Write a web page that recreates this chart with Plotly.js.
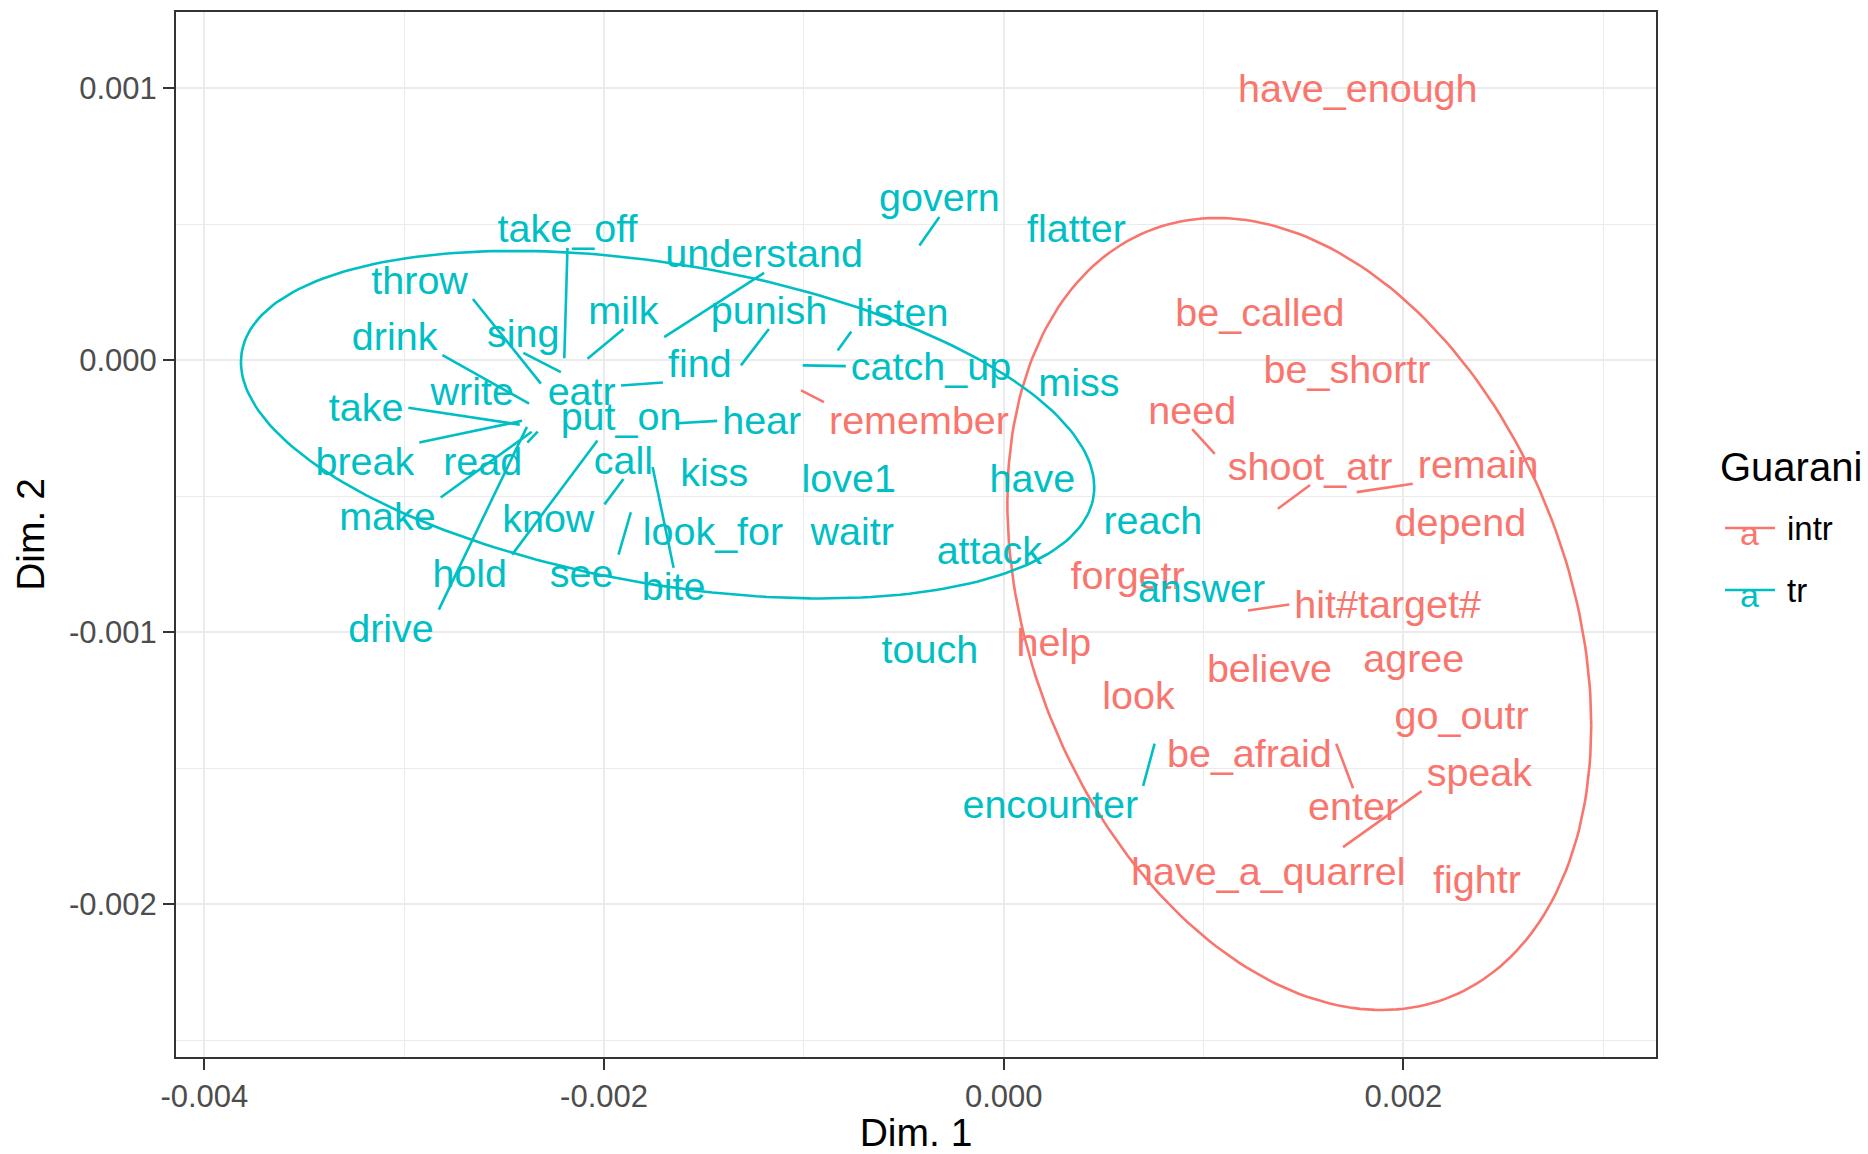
<!DOCTYPE html>
<html>
<head>
<meta charset="utf-8">
<script src="https://cdn.plot.ly/plotly-3.0.1.min.js"></script>
<style>
  html, body { margin: 0; padding: 0; background: #ffffff; }
  #chart { width: 1868px; height: 1154px; }
</style>
</head>
<body>
<div id="chart"></div>
<script>
// ---- Guarani verbs: transitive (tr) ----
// x / y: position of each verb on Dim. 1 / Dim. 2
// labelX / labelY: where the repelled text label sits
const trWords  = ['govern','take_off','flatter','understand','throw','milk','punish','listen','sing','drink',
                  'find','catch_up','miss','write','eatr','take','put_on','hear','break','read',
                  'call','kiss','love1','have','make','know','look_for','waitr','reach','attack',
                  'hold','see','bite','answer','drive','touch','encounter'];
const trX      = [-0.000422,-0.002199, 0.000364,-0.001699,-0.002316,-0.002083,-0.001315,-0.000831,-0.002216,-0.002375,
                  -0.001915,-0.001006, 0.000376,-0.002660,-0.002112,-0.002422,-0.001915,-0.001634,-0.002410,-0.002332,
                  -0.001998,-0.001449,-0.000776, 0.000143,-0.002362,-0.002279,-0.001455,-0.000758, 0.000746,-0.000072,
                  -0.002033,-0.001866,-0.001757, 0.000990,-0.002386,-0.000370, 0.000755];
const trY      = [ 0.000422, 0.000007, 0.000482, 0.000085,-0.000086, 0.000005,-0.000019, 0.000036,-0.000044,-0.000160,
                  -0.000093,-0.000019,-0.000083,-0.000114,-0.000114,-0.000237,-0.000206,-0.000232,-0.000223,-0.000263,
                  -0.000530,-0.000412,-0.000434,-0.000434,-0.000263,-0.000583,-0.000631,-0.000631,-0.000591,-0.000701,
                  -0.000295,-0.000559,-0.000393,-0.000841,-0.000245,-0.001064,-0.001410];
const trLabelX = [-0.000322,-0.002183, 0.000364,-0.001199,-0.002923,-0.001903,-0.001175,-0.000507,-0.002404,-0.003048,
                  -0.001521,-0.000364, 0.000376,-0.002660,-0.002112,-0.003191,-0.001915,-0.001211,-0.003197,-0.002607,
                  -0.001903,-0.001449,-0.000776, 0.000143,-0.003084,-0.002279,-0.001455,-0.000758, 0.000746,-0.000072,
                  -0.002672,-0.002112,-0.001652, 0.000990,-0.003066,-0.000370, 0.000233];
const trLabelY = [ 0.000596, 0.000482, 0.000482, 0.000390, 0.000294, 0.000184, 0.000184, 0.000175, 0.000096, 0.000088,
                  -0.000013,-0.000022,-0.000083,-0.000114,-0.000114,-0.000175,-0.000206,-0.000223,-0.000372,-0.000372,
                  -0.000368,-0.000412,-0.000434,-0.000434,-0.000574,-0.000583,-0.000631,-0.000631,-0.000591,-0.000701,
                  -0.000784,-0.000784,-0.000832,-0.000841,-0.000986,-0.001064,-0.001634];

// ---- Guarani verbs: intransitive (intr) ----
const intrWords  = ['have_enough','be_called','be_shortr','need','remember','shoot_atr','remain','depend','forgetr','hit#target#',
                    'help','believe','agree','look','go_outr','be_afraid','speak','enter','have_a_quarrel','fightr'];
const intrX      = [ 0.001772, 0.001282, 0.001718, 0.001056,-0.001014, 0.001372, 0.001766, 0.002285, 0.000620, 0.001222,
                     0.000251, 0.001330, 0.002052, 0.000674, 0.002291, 0.001229, 0.001698, 0.001664, 0.001324, 0.002368];
const intrY      = [ 0.000999, 0.000175,-0.000035,-0.000344,-0.000111,-0.000546,-0.000485,-0.000596,-0.000793,-0.000920,
                    -0.001038,-0.001134,-0.001099,-0.001235,-0.001305,-0.001445,-0.001790,-0.001410,-0.001879,-0.001910];
const intrLabelX = [ 0.001772, 0.001282, 0.001718, 0.000943,-0.000424, 0.001533, 0.002374, 0.002285, 0.000620, 0.001921,
                     0.000251, 0.001330, 0.002052, 0.000674, 0.002291, 0.001229, 0.002380, 0.001748, 0.001324, 0.002368];
const intrLabelY = [ 0.000999, 0.000175,-0.000035,-0.000184,-0.000223,-0.000390,-0.000385,-0.000596,-0.000793,-0.000898,
                    -0.001038,-0.001134,-0.001099,-0.001235,-0.001305,-0.001445,-0.001515,-0.001643,-0.001879,-0.001910];

// ---- 95% ellipse of each group: centre, spread along each dimension, correlation ----
const ellipseGroups  = ['intr', 'tr'];
const ellipseCenterX = [ 0.001479, -0.001682];
const ellipseCenterY = [-0.000933, -0.000237];
const ellipseSpreadX = [ 0.001461,  0.002135];
const ellipseSpreadY = [ 0.001456,  0.000639];
const ellipseRho     = [-0.282,    -0.360];

// ---- axis ticks ----
const xTickVals  = [-0.004, -0.002, 0.000, 0.002];
const xTickText  = ['-0.004', '-0.002', '0.000', '0.002'];
const xMinorVals = [-0.003, -0.001, 0.001, 0.003];
const yTickVals  = [-0.002, -0.001, 0.000, 0.001];
const yTickText  = ['-0.002', '-0.001', '0.000', '0.001'];
const yMinorVals = [-0.0025, -0.0015, -0.0005, 0.0005];

// ---- styling ----
const COLORS = { intr: '#F8766D', tr: '#00BFC4' };
const FONT = '"Liberation Sans", Arial, Helvetica, sans-serif';
const LABEL_SIZE = 39.5;
const LABEL_DROP = 3.5;          // px: puts the optical centre of each word on its anchor
const W = 1868, H = 1154;
const M = { l: 176, r: 212, t: 12, b: 97 };
const xRange = [-0.004142, 0.003264];
const yRange = [-0.0025618, 0.0012801];

const plotW = W - M.l - M.r;
const plotH = H - M.t - M.b;
const toPx = (x, y) => [
  (x - xRange[0]) / (xRange[1] - xRange[0]) * plotW,
  (yRange[1] - y) / (yRange[1] - yRange[0]) * plotH
];
const toData = (px, py) => [
  xRange[0] + px / plotW * (xRange[1] - xRange[0]),
  yRange[1] - py / plotH * (yRange[1] - yRange[0])
];

// text width measurement for the label boxes
const ctx = document.createElement('canvas').getContext('2d');
ctx.font = LABEL_SIZE + 'px ' + FONT;

// Connector: from each verb's position to one of the eight anchor spots of its
// label box (corners or edge midpoints), the one facing the verb.
function segments(words, xs, ys, lxs, lys) {
  const sx = [], sy = [];
  words.forEach((w, i) => {
    const [px, py] = toPx(xs[i], ys[i]);
    const [cx, cy] = toPx(lxs[i], lys[i]);
    const hw = ctx.measureText(w).width / 2 + 5;
    const hh = LABEL_SIZE * 0.4 + 3;
    const x1 = cx - hw, x2 = cx + hw, y1 = cy - hh, y2 = cy + hh;
    if (px >= x1 && px <= x2 && py >= y1 && py <= y2) return;   // point lies under its own label
    const ex = px < x1 ? x1 : (px > x2 ? x2 : cx);
    const ey = py < y1 ? y1 : (py > y2 ? y2 : cy);
    if (Math.hypot(ex - px, ey - py) < 4) return;
    const a = toData(px, py), b = toData(ex, ey);
    sx.push(a[0], b[0], null);
    sy.push(a[1], b[1], null);
  });
  return { sx, sy };
}

function ellipse(k) {
  const ex = [], ey = [];
  const sxk = ellipseSpreadX[k], syk = ellipseSpreadY[k], r = ellipseRho[k];
  for (let i = 0; i <= 240; i++) {
    const t = 2 * Math.PI * i / 240;
    const u = Math.cos(t), v = Math.sin(t);
    ex.push(ellipseCenterX[k] + sxk * u);
    ey.push(ellipseCenterY[k] + syk * (r * u + Math.sqrt(1 - r * r) * v));
  }
  return { ex, ey };
}

const traces = [];
ellipseGroups.forEach((g, k) => {
  const { ex, ey } = ellipse(k);
  traces.push({
    x: ex, y: ey, type: 'scatter', mode: 'lines', hoverinfo: 'skip', showlegend: false,
    line: { color: COLORS[g], width: 2.6 }
  });
});

const groups = [
  { g: 'intr', words: intrWords, x: intrX, y: intrY, lx: intrLabelX, ly: intrLabelY },
  { g: 'tr',   words: trWords,   x: trX,   y: trY,   lx: trLabelX,   ly: trLabelY }
];

groups.forEach(d => {
  const { sx, sy } = segments(d.words, d.x, d.y, d.lx, d.ly);
  traces.push({
    x: sx, y: sy, type: 'scatter', mode: 'lines', hoverinfo: 'skip', showlegend: false,
    line: { color: COLORS[d.g], width: 2.6 }
  });
});

groups.forEach(d => {
  const textY = d.ly.map((y, i) => {
    const p = toPx(d.lx[i], y);
    return toData(p[0], p[1] + LABEL_DROP)[1];
  });
  traces.push({
    x: d.lx, y: textY, text: d.words, type: 'scatter', mode: 'text', name: d.g,
    textposition: 'middle center', showlegend: false, cliponaxis: false,
    textfont: { family: FONT, size: LABEL_SIZE, color: COLORS[d.g] }
  });
});

// legend drawn as ggplot-style keys ("a" over a short line)
const legendX0 = (1725 - M.l) / plotW, legendX1 = (1775 - M.l) / plotW;
const legendRows = [
  { g: 'intr', y: (H - M.b - 528) / plotH },
  { g: 'tr',   y: (H - M.b - 590) / plotH }
];
const shapes = legendRows.map(r => ({
  type: 'line', xref: 'paper', yref: 'paper',
  x0: legendX0, x1: legendX1, y0: r.y, y1: r.y,
  line: { color: COLORS[r.g], width: 2.6 }
}));
const annotations = [
  { text: 'Guarani', xref: 'paper', yref: 'paper', x: (1718 - M.l) / plotW, y: (H - M.b - 467) / plotH,
    xanchor: 'left', yanchor: 'middle', showarrow: false, font: { family: FONT, size: 40, color: '#000000' } }
];
legendRows.forEach(r => {
  annotations.push({ text: 'a', xref: 'paper', yref: 'paper', x: (legendX0 + legendX1) / 2, y: r.y - 0.005,
    xanchor: 'center', yanchor: 'middle', showarrow: false, font: { family: FONT, size: 34, color: COLORS[r.g] } });
  annotations.push({ text: r.g, xref: 'paper', yref: 'paper', x: (1785 - M.l) / plotW, y: r.y,
    xanchor: 'left', yanchor: 'middle', showarrow: false, font: { family: FONT, size: 33, color: '#000000' } });
});

const axisCommon = {
  showgrid: true, gridcolor: '#EBEBEB', gridwidth: 2,
  zeroline: false, showline: true, mirror: true, linecolor: '#333333', linewidth: 2,
  ticks: 'outside', ticklen: 11, tickwidth: 2, tickcolor: '#333333',
  tickfont: { family: FONT, size: 31, color: '#4D4D4D' },
  automargin: false, fixedrange: true
};

const layout = {
  width: W, height: H,
  margin: M,
  paper_bgcolor: '#ffffff', plot_bgcolor: '#ffffff',
  showlegend: false,
  xaxis: Object.assign({}, axisCommon, {
    range: xRange, tickmode: 'array', tickvals: xTickVals, ticktext: xTickText,
    minor: { tickmode: 'array', tickvals: xMinorVals, showgrid: true, gridcolor: '#EBEBEB', gridwidth: 1, ticks: '' },
    title: { text: 'Dim. 1', font: { family: FONT, size: 39, color: '#000000' }, standoff: 10 }
  }),
  yaxis: Object.assign({}, axisCommon, {
    range: yRange, tickmode: 'array', tickvals: yTickVals, ticktext: yTickText,
    minor: { tickmode: 'array', tickvals: yMinorVals, showgrid: true, gridcolor: '#EBEBEB', gridwidth: 1, ticks: '' },
    title: { text: 'Dim. 2', font: { family: FONT, size: 39, color: '#000000' }, standoff: 12 }
  }),
  shapes: shapes,
  annotations: annotations
};

Plotly.newPlot('chart', traces, layout, { displayModeBar: false, staticPlot: true });
</script>
</body>
</html>
